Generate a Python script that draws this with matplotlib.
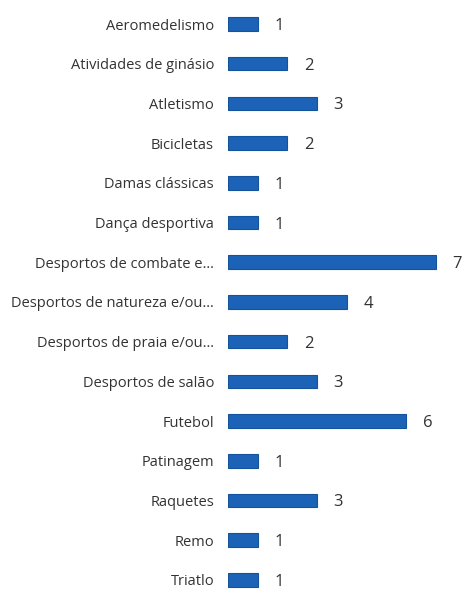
import matplotlib
matplotlib.use("Agg")
import matplotlib.pyplot as plt

categories = ["Aeromedelismo", "Atividades de ginásio", "Atletismo", "Bicicletas",
              "Damas clássicas", "Dança desportiva", "Desportos de combate e…",
              "Desportos de natureza e/ou…", "Desportos de praia e/ou…",
              "Desportos de salão", "Futebol", "Patinagem", "Raquetes", "Remo", "Triatlo"]
values = [1, 2, 3, 2, 1, 1, 7, 4, 2, 3, 6, 1, 3, 1, 1]

plt.rcParams['font.family'] = ['Open Sans', 'DejaVu Sans']

fig = plt.figure(figsize=(4.62, 5.89), dpi=100)
ax = fig.add_axes([228/462, 0, 1 - 228/462, 1])
y = list(range(len(categories)))
ax.barh(y, values, height=0.34, color='#1c63b7', edgecolor='#15529c', linewidth=0.8)
ax.set_xlim(0, 7.88)
ax.set_ylim(14.23, -0.605)
ax.set_yticks(y)
ax.set_yticklabels(categories, fontsize=10.5, color='#333333')
ax.tick_params(axis='y', length=0, pad=10)
ax.set_xticks([])
for s in ax.spines.values():
    s.set_visible(False)
for yi, v in zip(y, values):
    ax.text(v + 0.72, yi + 0.05, str(v), va='center', ha='center', fontsize=12, color='#333333')
fig.savefig("out.png", dpi=100)
